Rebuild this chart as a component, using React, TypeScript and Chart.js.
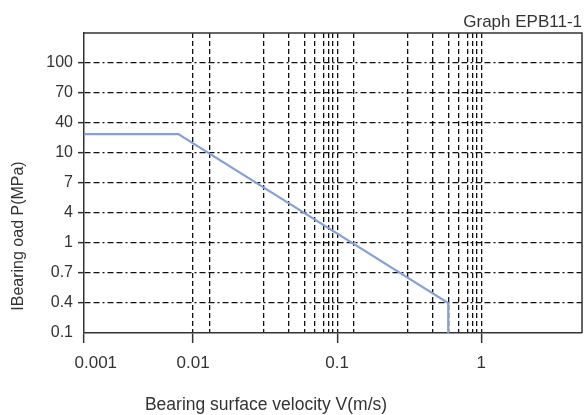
import React, { useEffect, useRef } from 'react';
import { Chart, registerables } from 'chart.js';

Chart.register(...registerables);

// Y axis: equally spaced load levels (MPa), bottom to top
const yTickLabels = ['0.1', '0.4', '0.7', '1', '4', '7', '10', '40', '70', '100'];
// X axis (m/s, logarithmic)
const xMin = 0.00175;
const xMax = 5;
const xMajorTicks = [0.01, 0.1, 1];
const xGridValues = [
  0.013, 0.031, 0.046, 0.059, 0.07, 0.08, 0.087, 0.093,
  0.13, 0.31, 0.46, 0.59, 0.7, 0.8, 0.87, 0.93,
];
// Load curve: velocity (m/s) and position on the load-level axis
const velocity = [0.00175, 0.0079, 0.59, 0.59];
const loadLevel = [6.63, 6.63, 1, 0];

const FONT = "'Liberation Sans', Arial, Helvetica, sans-serif";
const TEXT = '#333333';

const textPlugin = {
  id: 'sketchText',
  afterDraw(chart: any) {
    const { ctx, chartArea } = chart;
    ctx.save();
    // frame (top and right)
    ctx.strokeStyle = '#333333';
    ctx.lineWidth = 1.5;
    ctx.setLineDash([]);
    ctx.beginPath();
    ctx.moveTo(chartArea.left, chartArea.top);
    ctx.lineTo(chartArea.right, chartArea.top);
    ctx.lineTo(chartArea.right, chartArea.bottom);
    ctx.stroke();

    ctx.fillStyle = TEXT;
    ctx.font = `17px ${FONT}`;
    ctx.textAlign = 'right';
    ctx.textBaseline = 'alphabetic';
    ctx.fillText('Graph EPB11-1', 582, 27);

    ctx.font = `17.5px ${FONT}`;
    ctx.textAlign = 'center';
    ctx.textBaseline = 'middle';
    ctx.fillText('Bearing surface velocity V(m/s)', 266, 405);

    ctx.font = `16px ${FONT}`;
    ctx.translate(19, 236);
    ctx.rotate(-Math.PI / 2);
    ctx.fillText('IBearing oad P(MPa)', 0, 0);
    ctx.restore();
  },
};

export default function App() {
  const ref = useRef<HTMLCanvasElement | null>(null);

  useEffect(() => {
    document.body.style.margin = '0';
    const canvas = ref.current;
    if (!canvas) return;
    const isMajor = (v: number) => v === xMin || xMajorTicks.includes(v);

    const chart = new Chart(canvas, {
      type: 'line',
      data: {
        datasets: [
          {
            data: velocity.map((v, i) => ({ x: v, y: loadLevel[i] })),
            borderColor: '#86a0d3',
            borderWidth: 2.2,
            pointRadius: 0,
            tension: 0,
            fill: false,
          },
        ],
      },
      options: {
        animation: false,
        responsive: false,
        devicePixelRatio: 1,
        layout: { padding: { left: 0, right: 2, top: 33, bottom: 0 } },
        plugins: { legend: { display: false }, tooltip: { enabled: false } },
        scales: {
          x: {
            type: 'logarithmic',
            min: xMin,
            max: xMax,
            afterBuildTicks: (scale: any) => {
              const vals = [xMin, ...xMajorTicks, ...xGridValues].sort((a, b) => a - b);
              scale.ticks = vals.map((v) => ({ value: v, major: isMajor(v) }));
            },
            afterFit: (scale: any) => {
              scale.height = 82;
            },
            border: { display: true, color: '#333333', width: 1.5, dash: [5, 3] },
            grid: {
              color: (ctx: any) => (ctx.tick && ctx.tick.value === xMin ? 'rgba(0,0,0,0)' : '#111111'),
              lineWidth: 1.3,
              drawTicks: true,
              tickLength: 10,
              tickWidth: 1.5,
              tickBorderDash: [],
              tickColor: (ctx: any) => (ctx.tick && isMajor(ctx.tick.value) ? '#333333' : 'rgba(0,0,0,0)'),
            },
            ticks: {
              autoSkip: false,
              maxRotation: 0,
              minRotation: 0,
              padding: 10,
              color: TEXT,
              font: { family: FONT, size: 17 },
              callback: (value: any) => {
                const v = Number(value);
                if (v === xMin) return '     0.001';
                if (xMajorTicks.includes(v)) return String(v);
                return '';
              },
            },
          },
          y: {
            type: 'linear',
            min: 0,
            max: 10,
            afterFit: (scale: any) => {
              scale.width = 84;
            },
            border: { display: true, color: '#333333', width: 1.5, dash: [6, 3, 6, 3, 2, 3] },
            grid: {
              color: (ctx: any) => {
                const v = ctx.tick ? ctx.tick.value : -1;
                return v <= 0 || v >= 10 ? 'rgba(0,0,0,0)' : '#111111';
              },
              lineWidth: 1.3,
              drawTicks: true,
              tickLength: 6,
              tickWidth: 1.5,
              tickBorderDash: [],
              tickColor: (ctx: any) => {
                const v = ctx.tick ? ctx.tick.value : -1;
                return v <= 0 || v >= 10 ? 'rgba(0,0,0,0)' : '#333333';
              },
            },
            ticks: {
              stepSize: 1,
              autoSkip: false,
              padding: 5,
              color: TEXT,
              font: { family: FONT, size: 16 },
              callback: (value: any) => yTickLabels[Number(value)] ?? '',
            },
          },
        },
      },
      plugins: [textPlugin],
    } as any);

    return () => {
      chart.destroy();
    };
  }, []);

  return (
    <div style={{ position: 'fixed', left: 0, top: 0, width: 584, height: 415, background: '#ffffff' }}>
      <canvas ref={ref} width={584} height={415} style={{ display: 'block' }} />
    </div>
  );
}
